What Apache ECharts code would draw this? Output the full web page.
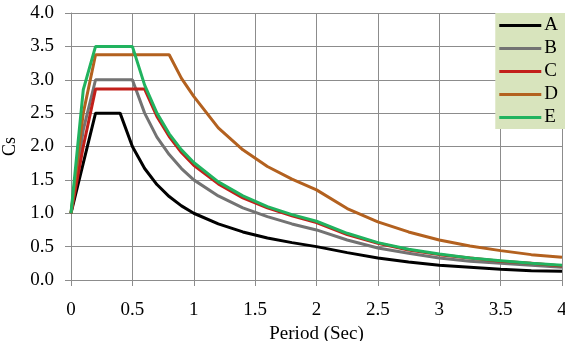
<!DOCTYPE html>
<html>
<head>
<meta charset="utf-8">
<script src="https://cdn.jsdelivr.net/npm/echarts@6/dist/echarts.min.js"></script>
<style>
  html, body { margin: 0; padding: 0; background: #fff; }
  #chart { width: 565px; height: 341px; }
</style>
</head>
<body>
<div id="chart"></div>
<script>
// period values (sec) shared by all curves
const periods = [0, 0.1, 0.2, 0.3, 0.4, 0.5, 0.6, 0.7, 0.8, 0.9, 1.0, 1.2, 1.4, 1.6, 1.8, 2.0, 2.25, 2.5, 2.75, 3.0, 3.25, 3.5, 3.75, 4.0];

// Cs, one list per soil type
const csA = [1.0, 1.75, 2.5, 2.5, 2.5, 2.0, 1.67, 1.43, 1.25, 1.11, 1.0, 0.84, 0.72, 0.63, 0.56, 0.5, 0.41, 0.33, 0.27, 0.22, 0.19, 0.16, 0.14, 0.13];
const csB = [1.0, 2.25, 3.0, 3.0, 3.0, 3.0, 2.5, 2.14, 1.88, 1.67, 1.5, 1.26, 1.08, 0.95, 0.84, 0.75, 0.6, 0.48, 0.4, 0.33, 0.28, 0.25, 0.22, 0.19];
const csC = [1.0, 2.0, 2.86, 2.86, 2.86, 2.86, 2.86, 2.45, 2.15, 1.91, 1.72, 1.44, 1.23, 1.08, 0.96, 0.86, 0.68, 0.55, 0.45, 0.38, 0.33, 0.28, 0.25, 0.21];
const csD = [1.0, 2.5, 3.375, 3.375, 3.375, 3.375, 3.375, 3.375, 3.375, 3.02, 2.75, 2.28, 1.95, 1.7, 1.51, 1.35, 1.07, 0.87, 0.72, 0.6, 0.51, 0.44, 0.38, 0.34];
const csE = [1.0, 2.85, 3.5, 3.5, 3.5, 3.5, 2.92, 2.5, 2.19, 1.95, 1.76, 1.47, 1.26, 1.1, 0.98, 0.88, 0.7, 0.56, 0.46, 0.39, 0.33, 0.29, 0.25, 0.22];

const names = ['A', 'B', 'C', 'D', 'E'];
const colors = ['#000000', '#737373', '#c21f1a', '#b3611f', '#21b35f'];
const values = [csA, csB, csC, csD, csE];

const serif = '"Liberation Serif", "Times New Roman", serif';
const gridColor = '#8c8c8c';

const chart = echarts.init(document.getElementById('chart'));

chart.setOption({
  animation: false,
  grid: { left: 71, right: 3, top: 13, bottom: 61, outerBoundsMode: 'none' },
  legend: {
    orient: 'vertical',
    right: 0,
    top: 13,
    backgroundColor: '#d8e4bd',
    padding: [3, 7, 2, 4],
    icon: 'rect',
    itemWidth: 42,
    itemHeight: 3,
    itemGap: 4,
    textStyle: { fontFamily: serif, fontSize: 19, color: '#000', lineHeight: 19, padding: [0, 0, 0, -2] },
    data: names
  },
  xAxis: {
    type: 'value',
    min: 0, max: 4, interval: 0.5,
    name: 'Period (Sec)',
    nameLocation: 'middle',
    nameGap: 36,
    nameTextStyle: { fontFamily: serif, fontSize: 19, color: '#000' },
    axisLine: { show: true, lineStyle: { color: gridColor } },
    axisTick: { show: true, length: 6, lineStyle: { color: gridColor } },
    axisLabel: { fontFamily: serif, fontSize: 19, color: '#000', margin: 21 },
    splitLine: { show: true, lineStyle: { color: gridColor } }
  },
  yAxis: {
    type: 'value',
    min: 0, max: 4, interval: 0.5,
    name: 'Cs',
    nameLocation: 'middle',
    nameGap: 46,
    nameTextStyle: { fontFamily: serif, fontSize: 18, color: '#000' },
    axisLine: { show: true, lineStyle: { color: gridColor } },
    axisTick: { show: true, length: 6, lineStyle: { color: gridColor } },
    axisLabel: {
      fontFamily: serif, fontSize: 19, color: '#000', margin: 17,
      formatter: v => v.toFixed(1)
    },
    splitLine: { show: true, lineStyle: { color: gridColor } }
  },
  series: names.map((n, i) => ({
    name: n,
    type: 'line',
    symbol: 'none',
    color: colors[i],
    lineStyle: { width: 3, color: colors[i] },
    data: periods.map((p, j) => [p, values[i][j]])
  }))
});
</script>
</body>
</html>
